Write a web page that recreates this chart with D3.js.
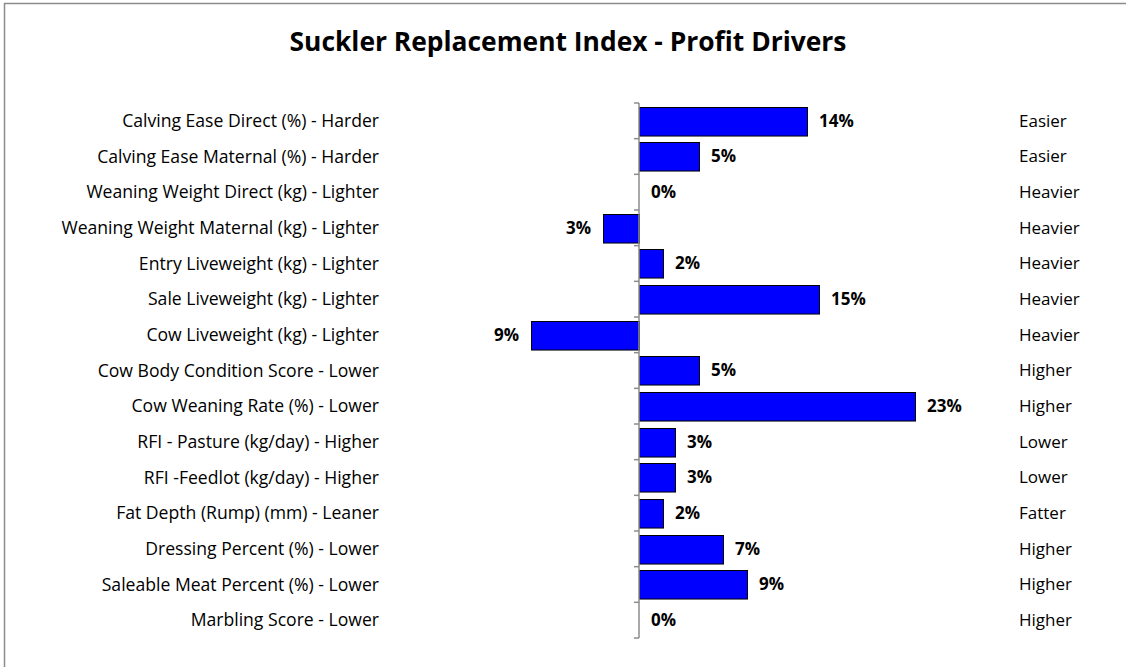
<!DOCTYPE html>
<html>
<head>
<meta charset="utf-8">
<script src="https://cdn.jsdelivr.net/npm/d3@7/dist/d3.min.js"></script>
<style>
  html, body { margin: 0; padding: 0; background: #fff; }
  svg { display: block; }
</style>
</head>
<body>
<svg id="chart" width="1126" height="667"></svg>
<script>
const categories = [
  "Calving Ease Direct (%) - Harder",
  "Calving Ease Maternal (%) - Harder",
  "Weaning Weight Direct (kg) - Lighter",
  "Weaning Weight Maternal (kg) - Lighter",
  "Entry Liveweight (kg) - Lighter",
  "Sale Liveweight (kg) - Lighter",
  "Cow Liveweight (kg) - Lighter",
  "Cow Body Condition Score - Lower",
  "Cow Weaning Rate (%) - Lower",
  "RFI - Pasture (kg/day) - Higher",
  "RFI -Feedlot (kg/day) - Higher",
  "Fat Depth (Rump) (mm) - Leaner",
  "Dressing Percent (%) - Lower",
  "Saleable Meat Percent (%) - Lower",
  "Marbling Score - Lower"
];
const values = [14, 5, 0, -3, 2, 15, -9, 5, 23, 3, 3, 2, 7, 9, 0];
const valueLabels = ["14%", "5%", "0%", "3%", "2%", "15%", "9%", "5%", "23%", "3%", "3%", "2%", "7%", "9%", "0%"];
const rightLabels = ["Easier", "Easier", "Heavier", "Heavier", "Heavier", "Heavier", "Heavier",
  "Higher", "Higher", "Lower", "Lower", "Fatter", "Higher", "Higher", "Higher"];
const title = "Suckler Replacement Index - Profit Drivers";

const svg = d3.select("#chart");
const font = "'Open Sans', Lato, sans-serif";

// outer border
svg.append("rect")
  .attr("x", 4.5).attr("y", 3.5)
  .attr("width", 1200).attr("height", 700)
  .attr("fill", "none").attr("stroke", "#8c8c8c").attr("stroke-width", 1.5);

svg.append("text")
  .attr("x", 568).attr("y", 51)
  .attr("text-anchor", "middle")
  .attr("font-family", font).attr("font-weight", "bold").attr("font-size", 26.4)
  .attr("fill", "#000")
  .text(title);

const x = d3.scaleLinear().domain([0, 23]).range([639, 915]);
const y = d3.scaleBand().domain(d3.range(categories.length)).range([103, 638]).paddingInner(0.2).paddingOuter(0.1);

// bars
svg.append("g").selectAll("rect").data(values).join("rect")
  .attr("x", d => x(Math.min(0, d)) + 0.5)
  .attr("width", d => Math.abs(x(d) - x(0)))
  .attr("y", (d, i) => Math.round(y(i)) + 0.5)
  .attr("height", y.bandwidth())
  .attr("fill", "#0000ff")
  .attr("stroke", "#000").attr("stroke-width", 1);

// axis with ticks at band boundaries
const axisG = svg.append("g");
axisG.append("line")
  .attr("x1", x(0)).attr("x2", x(0))
  .attr("y1", 103).attr("y2", 638)
  .attr("stroke", "#8c8c8c").attr("stroke-width", 1.5);
axisG.selectAll("line.tick").data(d3.range(categories.length + 1)).join("line")
  .attr("class", "tick")
  .attr("x1", x(0) - 5).attr("x2", x(0))
  .attr("y1", i => 103 + i * (535 / categories.length))
  .attr("y2", i => 103 + i * (535 / categories.length))
  .attr("stroke", "#8c8c8c").attr("stroke-width", 1.5);

// category labels
svg.append("g").selectAll("text").data(categories).join("text")
  .attr("x", 379)
  .attr("y", (d, i) => y(i) + y.bandwidth() / 2)
  .attr("dy", "0.35em")
  .attr("text-anchor", "end")
  .attr("font-family", font).attr("font-size", 17.6)
  .attr("fill", "#000")
  .text(d => d);

// value labels
svg.append("g").selectAll("text").data(values).join("text")
  .attr("x", d => d < 0 ? x(d) - 12 : x(d) + 12)
  .attr("y", (d, i) => y(i) + y.bandwidth() / 2)
  .attr("dy", "0.35em")
  .attr("text-anchor", d => d < 0 ? "end" : "start")
  .attr("font-family", font).attr("font-weight", "bold").attr("font-size", 17)
  .attr("fill", "#000")
  .text((d, i) => valueLabels[i]);

// right labels
svg.append("g").selectAll("text").data(rightLabels).join("text")
  .attr("x", 1019)
  .attr("y", (d, i) => y(i) + y.bandwidth() / 2)
  .attr("dy", "0.35em")
  .attr("text-anchor", "start")
  .attr("font-family", font).attr("font-size", 17)
  .attr("fill", "#000")
  .text(d => d);
</script>
</body>
</html>
